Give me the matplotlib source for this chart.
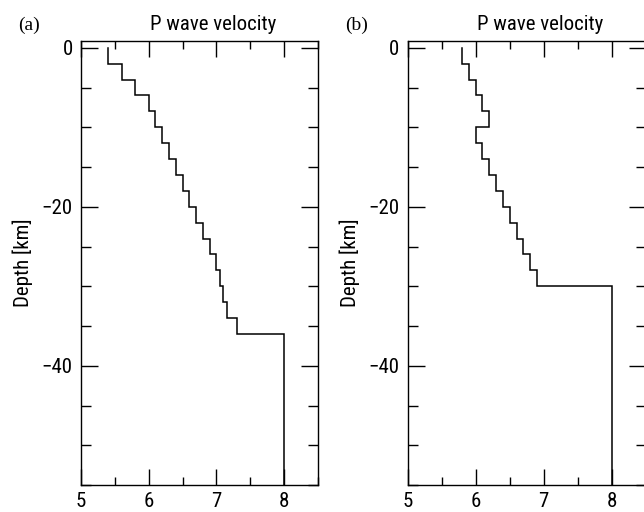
import numpy as np
import matplotlib
matplotlib.use("Agg")
import matplotlib.pyplot as plt
from matplotlib import font_manager
from matplotlib.ticker import MultipleLocator, FixedLocator

# ---- data ----
interfaces_a = [0, 2, 4, 6, 8, 10, 12, 14, 16, 18, 20, 22, 24, 26, 28, 30, 32, 34, 36]
velocity_a = [5.4, 5.6, 5.8, 6.0, 6.1, 6.2, 6.3, 6.4, 6.5, 6.6, 6.7, 6.8, 6.9, 7.0, 7.05, 7.1, 7.15, 7.3, 8.0]

interfaces_b = [0, 2, 4, 6, 8, 10, 12, 14, 16, 18, 20, 22, 24, 26, 28, 30]
velocity_b = [5.8, 5.9, 6.0, 6.1, 6.2, 6.0, 6.1, 6.2, 6.3, 6.4, 6.5, 6.6, 6.7, 6.8, 6.9, 8.0]

x_ticks = [5, 6, 7, 8]
y_ticks = [0, -20, -40]
panel_labels = ["(a)", "(b)"]
title = "P wave velocity"
ylabel = "Depth [km]"
model_bottom = 55

# find a condensed sans font if any
entries = font_manager.fontManager.ttflist
chosen = None
prefs = ["liberationsansnarrow-regular", "robotocondensed-regular", "dejavusanscondensed.",
         "opensans_condensed-regular", "opensans-condensed", "notosans-condensed.", "notosanscondensed-regular",
         "condensed-regular", "condensed.ttf", "narrow"]
bad = ["bold", "italic", "oblique", "light", "medium", "semi", "thin", "black", "extra"]
for p in prefs:
    for e in entries:
        base = e.fname.lower().replace(" ", "").split("/")[-1]
        if p in base and not any(b in base for b in bad):
            chosen = e
            break
    if chosen:
        break

names = {f.name for f in entries}
serif = "Liberation Serif" if "Liberation Serif" in names else "DejaVu Serif"
if chosen is not None:
    plt.rcParams["font.family"] = [chosen.name, "DejaVu Sans"]
    plt.rcParams["font.stretch"] = chosen.stretch
    plt.rcParams["font.weight"] = chosen.weight
else:
    plt.rcParams["font.family"] = ["DejaVu Sans"]

W, H = 644, 512
fig = plt.figure(figsize=(W / 100, H / 100), dpi=100)

def px_axes(left, top, right, bottom):
    return fig.add_axes([left / W, (H - bottom) / H, (right - left) / W, (bottom - top) / H])

def draw(ax, interfaces, vel, label):
    tops = np.array(interfaces, dtype=float)
    bots = np.append(tops[1:], model_bottom)
    xs, ys = [], []
    for v, t, b in zip(vel, tops, bots):
        xs += [v, v]
        ys += [-t, -b]
    ax.plot(xs, ys, color="black", lw=1.1, solid_joinstyle="miter")
    ax.set_xlim(5, 8.5)
    ax.set_ylim(-model_bottom, 0.85)
    ax.xaxis.set_major_locator(FixedLocator(x_ticks))
    ax.xaxis.set_minor_locator(MultipleLocator(0.5))
    ax.yaxis.set_major_locator(FixedLocator(y_ticks))
    ax.yaxis.set_minor_locator(MultipleLocator(5))
    ax.tick_params(which="both", direction="in", top=True, right=True, width=1.0, labelsize=15)
    ax.tick_params(axis="x", which="major", length=11.5, pad=5)
    ax.tick_params(axis="x", which="minor", length=6)
    ax.tick_params(axis="y", which="major", length=12, pad=6)
    ax.tick_params(axis="y", which="minor", length=7)
    for s in ax.spines.values():
        s.set_linewidth(1.0)
    ax.set_ylabel(ylabel, fontsize=15, labelpad=6)
    ax.text(0.557, 1.025, title, transform=ax.transAxes, ha="center", va="baseline", fontsize=15)
    ax.text(-0.265, 1.025, label, transform=ax.transAxes, ha="left", va="baseline",
            fontsize=14, family=serif, stretch="normal")

ax1 = px_axes(81, 41, 318, 485)
draw(ax1, interfaces_a, velocity_a, panel_labels[0])
ax2 = px_axes(407.7, 41, 645.7, 485)
draw(ax2, interfaces_b, velocity_b, panel_labels[1])

fig.savefig("out.png", dpi=100)
